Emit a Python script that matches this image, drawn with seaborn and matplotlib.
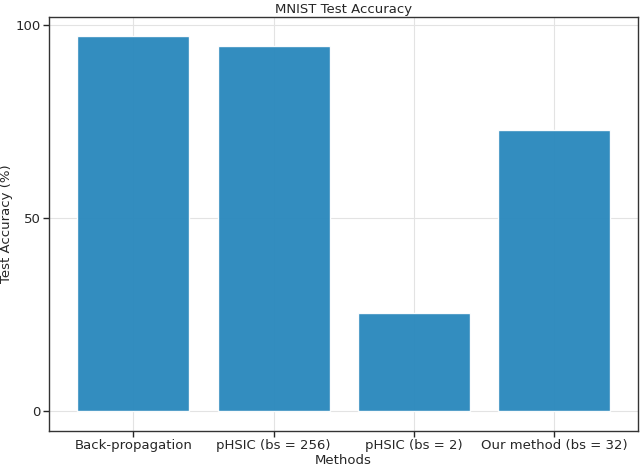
import seaborn as sns
import matplotlib.pyplot as plt
import pandas as pd

methods = ["Back-propagation", "pHSIC (bs = 256)", "pHSIC (bs = 2)", "Our method (bs = 32)"]
accuracy = [97.2, 94.6, 25.4, 72.9]

df = pd.DataFrame({"Methods": methods, "Test Accuracy (%)": accuracy})

sns.set_style("white")
plt.rcParams['font.family'] = ['DejaVu Sans']

f, ax = plt.subplots(figsize=(6.4, 4.69), dpi=100)
sns.barplot(x="Methods", y="Test Accuracy (%)", data=df, color="#2887BC",
            saturation=1, alpha=0.95, width=0.8, ax=ax)
ax.grid(True, color="#e3e3e3", linewidth=0.8)
ax.set_axisbelow(True)

ax.set_xlim(-0.6, 3.6)
ax.set_ylim(-5.2, 102.1)
ax.set_yticks([0, 50, 100])
ax.set_title("MNIST Test Accuracy", fontsize=9.5, pad=3)
ax.set_xlabel("Methods", fontsize=9.5, labelpad=1)
ax.set_ylabel("Test Accuracy (%)", fontsize=9.5, labelpad=2)
ax.tick_params(axis="both", direction="out", length=4, width=1, labelsize=9.5,
               bottom=True, left=True, pad=2)
for s in ax.spines.values():
    s.set_color("#333333")
    s.set_linewidth(1)

plt.subplots_adjust(left=0.077, right=0.997, top=0.964, bottom=0.081)
plt.savefig("out.png")
